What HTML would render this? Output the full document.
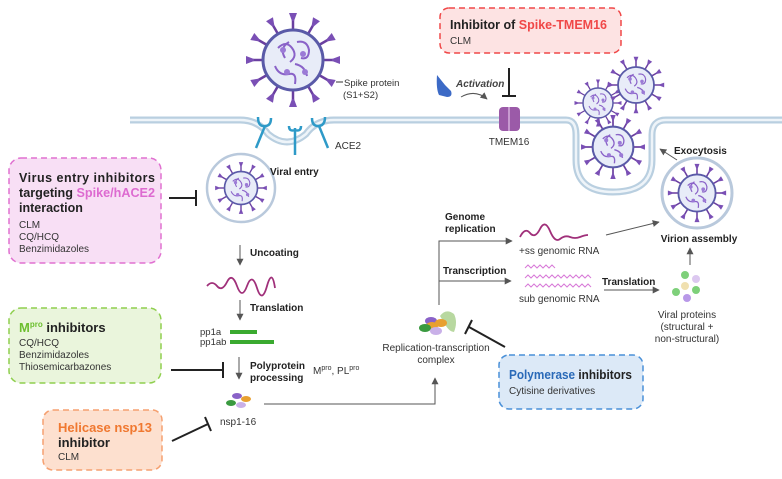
<!DOCTYPE html>
<html><head><meta charset="utf-8"><style>
html,body{margin:0;padding:0;background:#fff;}
svg{display:block;font-family:"Liberation Sans",sans-serif;}
.b{font-weight:bold;}
</style></head><body>
<svg width="782" height="479" viewBox="0 0 782 479" xmlns="http://www.w3.org/2000/svg">
<defs>
<g id="spk"><line x1="0" y1="-29" x2="0" y2="-40" stroke="#6a3fa0" stroke-width="2.5"/><path d="M-4,-47 L4,-47 L1,-39 L-1,-39Z" fill="#7a4fb5"/></g>
<g id="vir">
<use href="#spk"/><use href="#spk" transform="rotate(30)"/><use href="#spk" transform="rotate(60)"/><use href="#spk" transform="rotate(90)"/><use href="#spk" transform="rotate(120)"/><use href="#spk" transform="rotate(150)"/><use href="#spk" transform="rotate(180)"/><use href="#spk" transform="rotate(210)"/><use href="#spk" transform="rotate(240)"/><use href="#spk" transform="rotate(270)"/><use href="#spk" transform="rotate(300)"/><use href="#spk" transform="rotate(330)"/>
<circle r="30" fill="#e8ecf8" stroke="#5a5aa8" stroke-width="3"/>
<path d="M-15,-12 q8,-8 14,0 q6,8 -2,14 M4,-18 q10,-2 12,8 q0,10 -8,8 M-18,6 q4,10 14,8 q8,-2 6,10 M2,4 q10,2 12,12 M-8,-2 q-6,-10 4,-16" fill="none" stroke="#8a62c8" stroke-width="2"/>
<circle cx="-10" cy="-10" r="3" fill="#9b7ad6"/><circle cx="10" cy="-6" r="3" fill="#9b7ad6"/><circle cx="-6" cy="12" r="3" fill="#9b7ad6"/><circle cx="12" cy="12" r="3" fill="#9b7ad6"/>
</g>
<marker id="ar" viewBox="0 0 10 10" refX="9" refY="5" markerWidth="7" markerHeight="7" orient="auto"><path d="M0,0L10,5L0,10z" fill="#555"/></marker>
</defs>

<path d="M130,120 H240 Q258,120 268,134 Q287,150 306,134 Q316,120 334,120 H566 Q576,120 576,135 V160 Q576,192 613,192 Q652,192 652,160 V135 Q652,120 666,120 H782" fill="none" stroke="#b9cfe0" stroke-width="7"/>
<path d="M130,120 H240 Q258,120 268,134 Q287,150 306,134 Q316,120 334,120 H566 Q576,120 576,135 V160 Q576,192 613,192 Q652,192 652,160 V135 Q652,120 666,120 H782" fill="none" stroke="#eef4f9" stroke-width="2.5"/>
<g stroke="#2e9ac8" stroke-width="2.5" fill="none">
<path d="M265,126 l-9,22 M258,117 q0,10 7,9 q6,0 6,-8"/>
<path d="M295,128 v27 M289,126 q0,6 6,4 q6,2 6,-4"/>
<path d="M319,126 l9,22 M312,118 q0,8 6,8 q7,0 7,-9"/>
</g>
<text x="335" y="149" font-size="10" fill="#333">ACE2</text>

<use href="#vir" transform="translate(293,60)"/>
<line x1="336" y1="82" x2="343" y2="82" stroke="#333"/>
<text x="344" y="86" font-size="9.5" fill="#333">Spike protein</text>
<text x="343" y="98" font-size="9.5" fill="#333">(S1+S2)</text>
<path d="M437,75 l8,10 l6,6 q2,6 -4,6 l-8,-2 q-3,-6 -2,-20z" fill="#3c6ac6"/>
<text x="456" y="87" font-size="10" font-style="italic" fill="#444" class="b">Activation</text>
<path d="M461,97 q14,-8 26,2" fill="none" stroke="#555" stroke-width="1" marker-end="url(#ar)"/>
<line x1="509" y1="68" x2="509" y2="96" stroke="#222" stroke-width="2"/>
<line x1="502" y1="96" x2="516" y2="96" stroke="#222" stroke-width="2"/>
<rect x="499" y="107" width="21" height="24" rx="4" fill="#9b5aa8"/>
<line x1="509" y1="107" x2="509" y2="131" stroke="#c79ad0" stroke-width="2"/>
<text x="509" y="145" font-size="10" fill="#333" text-anchor="middle">TMEM16</text>

<rect x="440" y="8" width="181" height="45" rx="9" fill="#fde3e3" stroke="#f04848" stroke-width="1.5" stroke-dasharray="6,4"/>
<text x="450" y="29" font-size="13" class="b" fill="#222" textLength="157" lengthAdjust="spacingAndGlyphs">Inhibitor of <tspan fill="#f04848">Spike-TMEM16</tspan></text>
<text x="450" y="44" font-size="10" fill="#333">CLM</text>

<use href="#vir" transform="translate(598,103) scale(0.5)"/>
<use href="#vir" transform="translate(636,85) scale(0.6)"/>
<use href="#vir" transform="translate(613,147) scale(0.68)"/>
<line x1="677" y1="160" x2="660" y2="149" stroke="#555" marker-end="url(#ar)"/>
<text x="674" y="154" font-size="10" class="b" fill="#222">Exocytosis</text>
<circle cx="697" cy="193" r="35" fill="#fff" stroke="#b9c9dc" stroke-width="3"/>
<use href="#vir" transform="translate(697,193) scale(0.62)"/>
<text x="699" y="242" font-size="10" class="b" fill="#222" text-anchor="middle">Virion assembly</text>

<rect x="9" y="158" width="152" height="105" rx="12" fill="#f8dff5" stroke="#e070d0" stroke-width="1.5" stroke-dasharray="6,4"/>
<text x="19" y="182" font-size="12.5" class="b" fill="#222" textLength="136" lengthAdjust="spacing">Virus entry inhibitors</text>
<text x="19" y="197" font-size="12.5" class="b" fill="#222" textLength="136" lengthAdjust="spacingAndGlyphs">targeting <tspan fill="#dd6ad0">Spike/hACE2</tspan></text>
<text x="19" y="212" font-size="12.5" class="b" fill="#222">interaction</text>
<text x="19" y="228" font-size="10" fill="#333">CLM</text>
<text x="19" y="240" font-size="10" fill="#333">CQ/HCQ</text>
<text x="19" y="252" font-size="10" fill="#333">Benzimidazoles</text>
<line x1="169" y1="198" x2="196" y2="198" stroke="#222" stroke-width="2"/>
<line x1="196" y1="190" x2="196" y2="206" stroke="#222" stroke-width="2"/>

<circle cx="241" cy="188" r="34" fill="#fff" stroke="#b9c9dc" stroke-width="2.5"/>
<use href="#vir" transform="translate(241,188) scale(0.55)"/>
<text x="270" y="175" font-size="10" class="b" fill="#222">Viral entry</text>
<line x1="240" y1="245" x2="240" y2="265" stroke="#555" marker-end="url(#ar)"/>
<text x="250" y="256" font-size="10" class="b" fill="#222">Uncoating</text>
<path d="M207,286 q5,-6 10,0 t10,-4 t10,4 t10,0 t10,2 t10,-2 t8,2" fill="none" stroke="#a0307a" stroke-width="1.8"/>
<line x1="240" y1="300" x2="240" y2="320" stroke="#555" marker-end="url(#ar)"/>
<text x="250" y="311" font-size="10" class="b" fill="#222">Translation</text>
<rect x="230" y="330" width="27" height="4" fill="#3aaa30"/>
<rect x="230" y="340" width="44" height="4" fill="#3aaa30"/>
<text x="200" y="335" font-size="9.5" fill="#333">pp1a</text>
<text x="200" y="345" font-size="9.5" fill="#333">pp1ab</text>
<line x1="239" y1="357" x2="239" y2="379" stroke="#555" marker-end="url(#ar)"/>
<text x="250" y="369" font-size="10" class="b" fill="#222">Polyprotein</text>
<text x="250" y="381" font-size="10" class="b" fill="#222">processing</text>
<text x="313" y="374" font-size="10" fill="#333">M<tspan font-size="7" dy="-4">pro</tspan><tspan dy="4">, PL</tspan><tspan font-size="7" dy="-4">pro</tspan></text>

<rect x="9" y="308" width="152" height="75" rx="12" fill="#eaf5dc" stroke="#8fcf4f" stroke-width="1.5" stroke-dasharray="6,4"/>
<text x="19" y="332" font-size="13" class="b" fill="#222"><tspan fill="#6cbf2e">M</tspan><tspan fill="#6cbf2e" font-size="8" dy="-5">pro</tspan><tspan dy="5"> inhibitors</tspan></text>
<text x="19" y="346" font-size="10" fill="#333">CQ/HCQ</text>
<text x="19" y="358" font-size="10" fill="#333">Benzimidazoles</text>
<text x="19" y="370" font-size="10" fill="#333">Thiosemicarbazones</text>
<line x1="171" y1="370" x2="223" y2="370" stroke="#222" stroke-width="2"/>
<line x1="223" y1="362" x2="223" y2="378" stroke="#222" stroke-width="2"/>

<ellipse cx="237" cy="396" rx="5" ry="3" fill="#8a62c8"/><ellipse cx="246" cy="399" rx="5" ry="3" fill="#e8a030"/>
<ellipse cx="231" cy="403" rx="5" ry="3" fill="#3a9a40"/><ellipse cx="241" cy="405" rx="5" ry="3" fill="#c9b0e8"/>
<text x="220" y="425" font-size="10" fill="#333">nsp1-16</text>
<polyline points="264,404 435,404 435,378" fill="none" stroke="#555" marker-end="url(#ar)"/>

<rect x="43" y="410" width="119" height="60" rx="10" fill="#fde0cf" stroke="#f5a070" stroke-width="1.5" stroke-dasharray="6,4"/>
<text x="58" y="432" font-size="13" class="b" fill="#f07830">Helicase nsp13</text>
<text x="58" y="447" font-size="13" class="b" fill="#222">inhibitor</text>
<text x="58" y="460" font-size="10" fill="#333">CLM</text>
<line x1="172" y1="441" x2="208" y2="424" stroke="#222" stroke-width="2"/>
<line x1="205" y1="417" x2="211" y2="431" stroke="#222" stroke-width="2"/>

<path d="M440,316 q6,-8 14,-2 q4,8 0,18 q-4,0 -8,-6z" fill="#b8d8a0"/>
<ellipse cx="431" cy="321" rx="6" ry="4" fill="#8a62c8"/><ellipse cx="432" cy="326" rx="6" ry="4" fill="#e8a030"/><ellipse cx="441" cy="323" rx="6" ry="4" fill="#e8a030"/>
<ellipse cx="425" cy="328" rx="6" ry="4" fill="#3a9a40"/><ellipse cx="436" cy="331" rx="6" ry="4" fill="#c9b0e8"/>
<text x="436" y="351" font-size="10" fill="#333" text-anchor="middle">Replication-transcription</text>
<text x="436" y="363" font-size="10" fill="#333" text-anchor="middle">complex</text>
<line x1="505" y1="347" x2="469" y2="327" stroke="#222" stroke-width="2"/>
<line x1="465" y1="334" x2="472" y2="320" stroke="#222" stroke-width="2"/>

<rect x="499" y="355" width="144" height="54" rx="10" fill="#dce9f7" stroke="#4a90d8" stroke-width="1.5" stroke-dasharray="6,4"/>
<text x="509" y="379" font-size="13" class="b" fill="#222" textLength="123" lengthAdjust="spacingAndGlyphs"><tspan fill="#2a6ab8">Polymerase</tspan> inhibitors</text>
<text x="509" y="394" font-size="10" fill="#333">Cytisine derivatives</text>

<polyline points="439,305 439,241 512,241" fill="none" stroke="#555" marker-end="url(#ar)"/>
<line x1="439" y1="281" x2="511" y2="281" stroke="#555" marker-end="url(#ar)"/>
<text x="445" y="220" font-size="10" class="b" fill="#222">Genome</text>
<text x="445" y="232" font-size="10" class="b" fill="#222">replication</text>
<text x="443" y="274" font-size="10" class="b" fill="#222">Transcription</text>
<path d="M520,237 q5,-10 10,-4 t10,-4 t10,2 t10,8 t10,-2 t10,0 t8,-2" fill="none" stroke="#a0307a" stroke-width="1.8"/>
<text x="519" y="254" font-size="10" fill="#333">+ss genomic RNA</text>
<path d="M525,268 l3,-3 l3,3 l3,-3 l3,3 l3,-3 l3,3 l3,-3 l3,3 l3,-3 l3,3 M525,278 l3,-3 l3,3 l3,-3 l3,3 l3,-3 l3,3 l3,-3 l3,3 l3,-3 l3,3 l3,-3 l3,3 l3,-3 l3,3 l3,-3 l3,3 l3,-3 l3,3 l3,-3 l3,3 l3,-3 l3,3 M525,287 l3,-3 l3,3 l3,-3 l3,3 l3,-3 l3,3 l3,-3 l3,3 l3,-3 l3,3 l3,-3 l3,3 l3,-3 l3,3 l3,-3 l3,3 l3,-3 l3,3 l3,-3 l3,3 l3,-3 l3,3" fill="none" stroke="#d87ad8" stroke-width="1"/>
<text x="519" y="302" font-size="10" fill="#333">sub genomic RNA</text>
<line x1="606" y1="235" x2="659" y2="222" stroke="#555" marker-end="url(#ar)"/>
<text x="602" y="285" font-size="10" class="b" fill="#222">Translation</text>
<line x1="604" y1="290" x2="659" y2="290" stroke="#555" marker-end="url(#ar)"/>
<line x1="690" y1="265" x2="690" y2="248" stroke="#555" marker-end="url(#ar)"/>
<circle cx="685" cy="275" r="4" fill="#7ed07a"/><circle cx="696" cy="279" r="4" fill="#dcc8f0"/>
<circle cx="685" cy="286" r="4" fill="#f0e0b0"/><circle cx="676" cy="292" r="4" fill="#7ed07a"/>
<circle cx="696" cy="290" r="4" fill="#7ed07a"/><circle cx="687" cy="298" r="4" fill="#b898e8"/>
<text x="687" y="318" font-size="10" fill="#333" text-anchor="middle">Viral proteins</text>
<text x="687" y="330" font-size="10" fill="#333" text-anchor="middle">(structural +</text>
<text x="687" y="342" font-size="10" fill="#333" text-anchor="middle">non-structural)</text>
</svg>
</body></html>
